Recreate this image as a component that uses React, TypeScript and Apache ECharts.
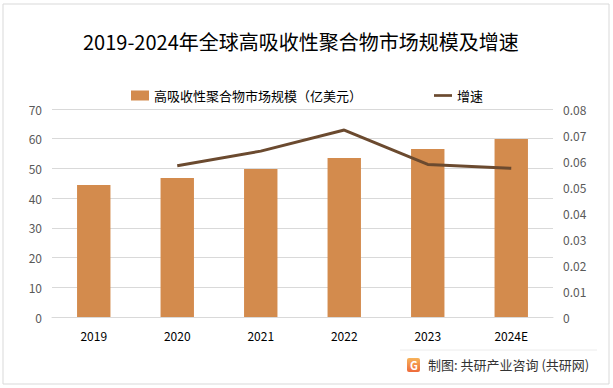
import React, { useEffect, useRef } from "react";
import * as echarts from "echarts";

const categories = ["2019", "2020", "2021", "2022", "2023", "2024E"];
const marketSize = [44.4, 46.8, 49.8, 53.5, 56.5, 59.9];
const growth = [null, 0.0582, 0.0638, 0.0719, 0.0587, 0.0572];
const leftTicks = [0, 10, 20, 30, 40, 50, 60, 70];
const rightTicks = [0, 0.01, 0.02, 0.03, 0.04, 0.05, 0.06, 0.07, 0.08];
const title = "2019-2024年全球高吸收性聚合物市场规模及增速";
const barName = "高吸收性聚合物市场规模（亿美元）";
const lineName = "增速";
const sourceText = "制图: 共研产业咨询 (共研网)";

export default function App() {
  const ref = useRef<HTMLDivElement>(null);
  useEffect(() => {
    document.body.style.margin = "0";
    const chart = echarts.init(ref.current!, null, { renderer: "svg" });
    const font = "'Microsoft YaHei', 'Noto Sans CJK SC', sans-serif";
    chart.setOption({
      animation: false,
      backgroundColor: "#ffffff",
      textStyle: { fontFamily: font },
      title: {
        text: title,
        left: 78,
        top: 26,
        textStyle: { fontSize: 20, fontWeight: "normal", color: "#000", fontFamily: font },
      },
      legend: {
        top: 84,
        left: 126,
        itemGap: 72,
        itemWidth: 18,
        itemHeight: 10,
        textStyle: { fontSize: 13, color: "#000", fontFamily: font },
        data: [
          { name: barName, icon: "rect" },
          { name: lineName, icon: "path://M0,0 L20,0 L20,3 L0,3 Z", itemStyle: { color: "#6B4A2F" } },
        ],
      },
      grid: { left: 52, right: 60, top: 109, bottom: 71 },
      xAxis: {
        type: "category",
        data: categories,
        axisLine: { lineStyle: { color: "#d9d9d9" } },
        axisTick: { show: false },
        axisLabel: { color: "#000", fontSize: 12, margin: 12 },
      },
      yAxis: [
        {
          type: "value",
          min: 0,
          max: leftTicks[leftTicks.length - 1],
          interval: 10,
          axisLine: { show: false },
          axisTick: { show: false },
          splitLine: { lineStyle: { color: "#d9d9d9" } },
          axisLabel: { color: "#595959", fontSize: 12, margin: 10 },
        },
        {
          type: "value",
          min: 0,
          max: rightTicks[rightTicks.length - 1],
          interval: 0.01,
          axisLine: { show: false },
          axisTick: { show: false },
          splitLine: { show: false },
          axisLabel: {
            color: "#595959",
            fontSize: 12,
            margin: 10,
            formatter: (v: number) => (v === 0 ? "0" : v.toFixed(2)),
          },
        },
      ],
      series: [
        {
          name: barName,
          type: "bar",
          data: marketSize,
          barWidth: "40%",
          itemStyle: { color: "#D38B4D" },
        },
        {
          name: lineName,
          type: "line",
          yAxisIndex: 1,
          data: growth,
          symbol: "none",
          lineStyle: { color: "#6B4A2F", width: 3 },
          itemStyle: { color: "#6B4A2F" },
        },
      ],
      graphic: [
        {
          type: "rect",
          shape: { x: 3, y: 4, width: 606, height: 380 },
          style: { fill: "none", stroke: "#d9d9d9", lineWidth: 1 },
          silent: true,
        },
        {
          type: "line",
          shape: { x1: 400, y1: 350, x2: 597, y2: 350 },
          style: { stroke: "#ececec", lineWidth: 1 },
        },
        {
          type: "rect",
          shape: { x: 407, y: 358, width: 13, height: 14, r: 2 },
          style: {
            fill: new echarts.graphic.LinearGradient(0, 0, 0, 1, [
              { offset: 0, color: "#F7B35A" },
              { offset: 1, color: "#EE6A3A" },
            ]),
          },
        },
        {
          type: "text",
          x: 410,
          y: 359,
          style: { text: "G", fill: "#fff", fontSize: 11, fontWeight: "bold", fontFamily: font },
        },
        {
          type: "text",
          x: 428,
          y: 358,
          style: { text: sourceText, fill: "#333", fontSize: 13, fontFamily: font },
        },
      ],
    });
    return () => chart.dispose();
  }, []);
  return <div ref={ref} style={{ width: 613, height: 388 }} />;
}
